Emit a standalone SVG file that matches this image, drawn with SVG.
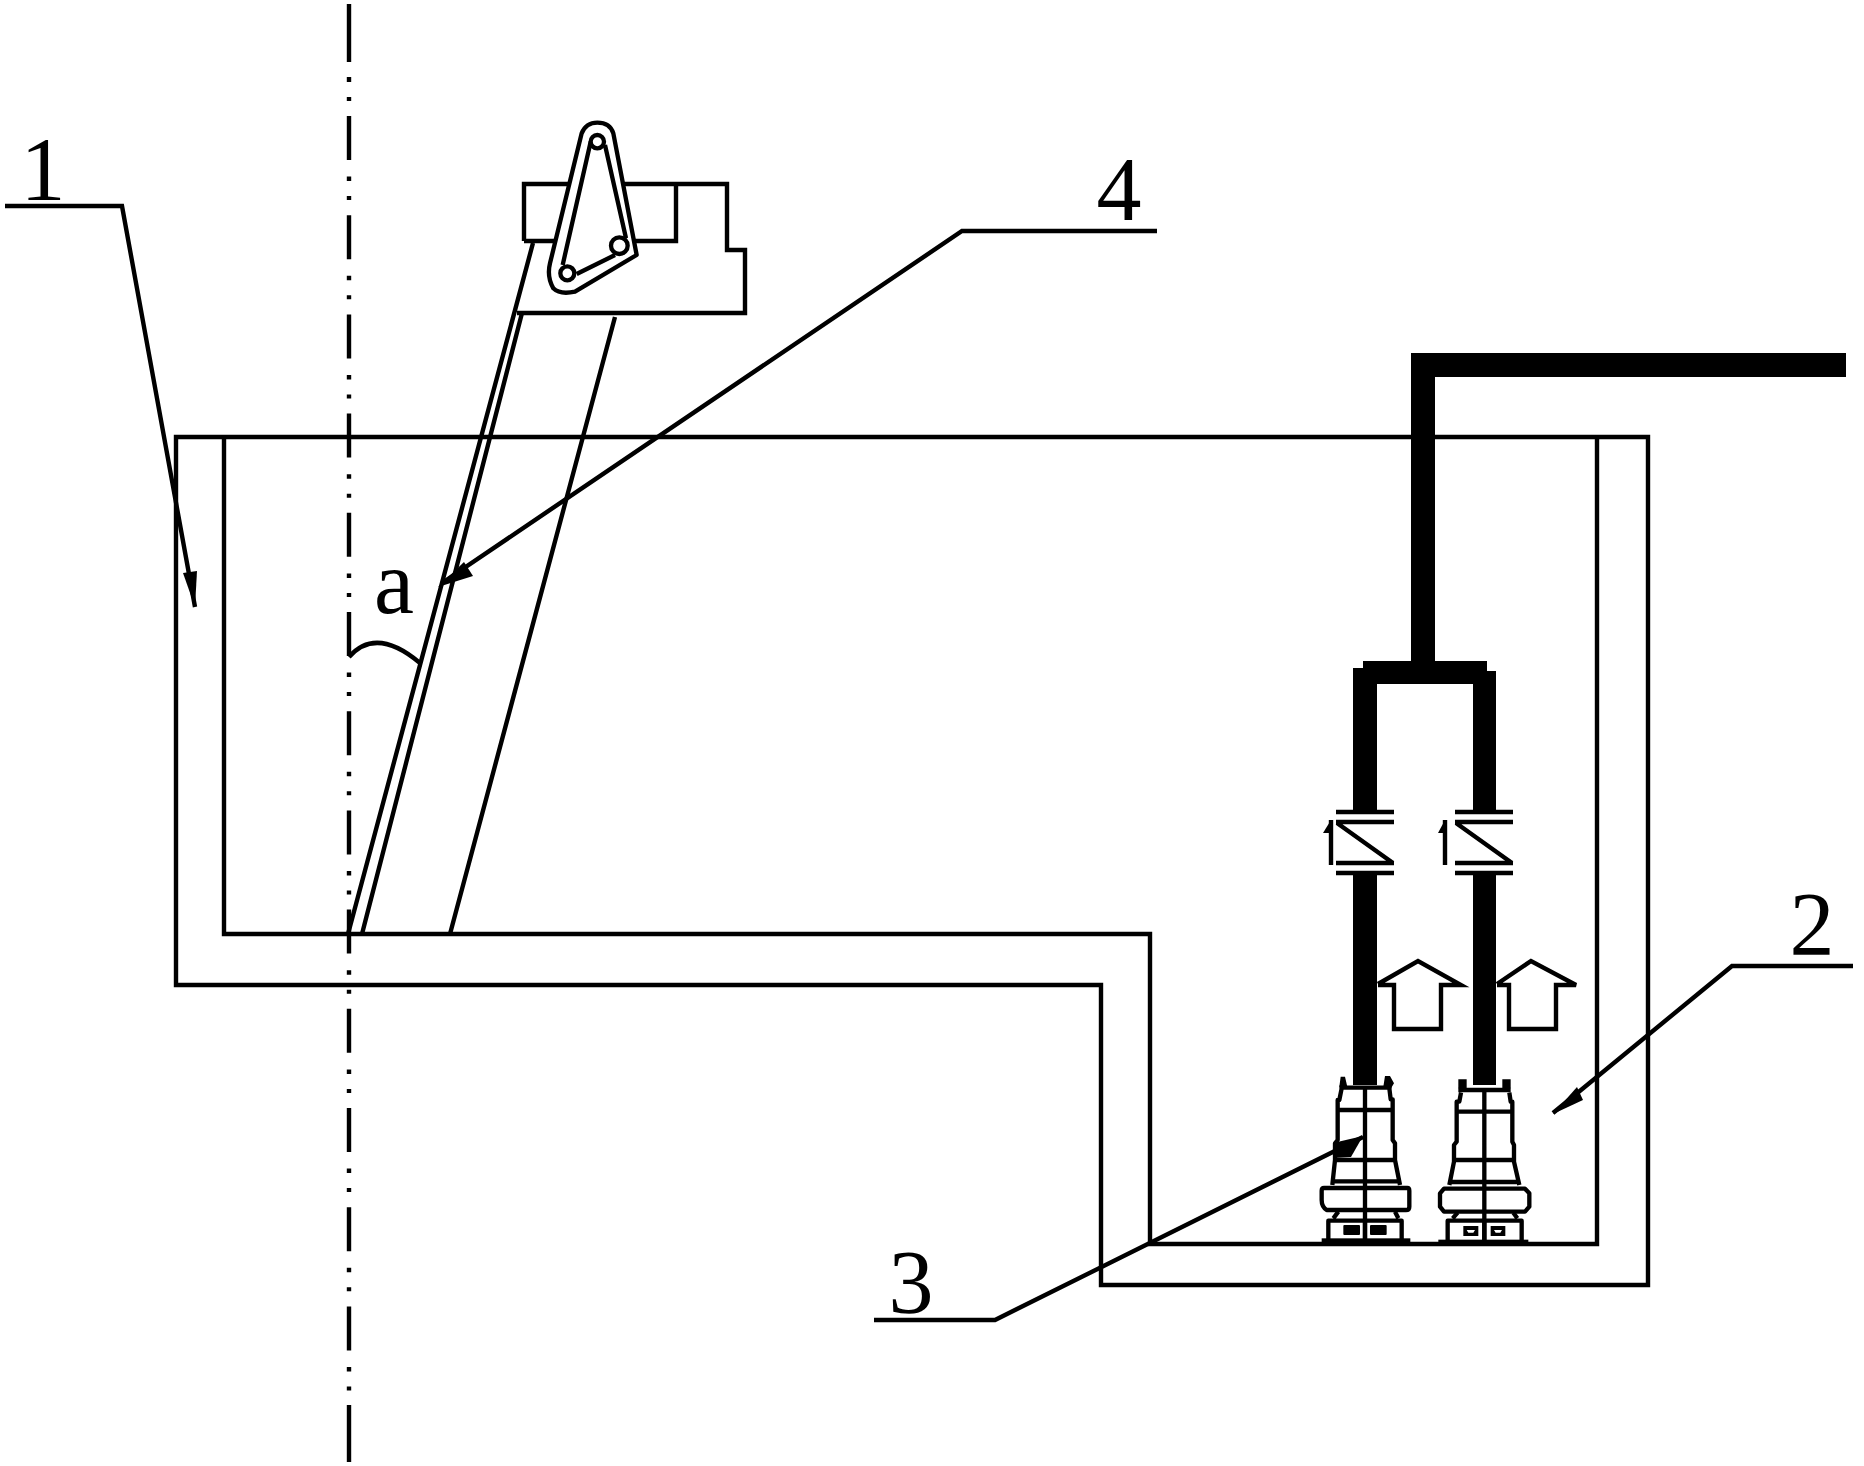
<svg xmlns="http://www.w3.org/2000/svg" width="1864" height="1466" viewBox="0 0 1864 1466">
<style>
.l{fill:none;stroke:#000;stroke-width:4.4}
.z{fill:none;stroke:#000;stroke-width:13;stroke-linejoin:round}
.w{fill:#fff;stroke:#000;stroke-width:13;stroke-linejoin:round}
.b{fill:#000;stroke:none}
.t{font-family:"Liberation Serif",serif;font-size:90px;fill:#000;text-anchor:middle}
</style>
<rect width="1864" height="1466" fill="#fff"/>
<g id="centerline">
<path class="l" d="M349 4V62M349 77V82M349 97V101"/>
<path class="l" stroke-dasharray="44 16.6 4.5 15 4 15.1" d="M349 116V1402"/>
<path class="l" d="M349 1405V1462"/>
</g>
<g id="tank">
<path class="l" d="M176 437H1648V1285H1101V985H176Z"/>
<path class="l" d="M224 437V934H1150V1244H1597V437"/>
</g>
<g id="gate">
<path class="l" d="M348 934L533 243M362 934L522 313M450 934L615 317"/>
<path class="l" d="M524 241V184H727V250H745V313H517M524 241H560M634 241H676V184"/>
<g transform="translate(480 100) scale(.33333)">
<path class="w" d="M352 68Q390 68 400 100L470 465L285 575Q240 585 220 565Q200 530 210 490L305 100Q318 68 352 68Z"/>
<path class="z" d="M332 125L248 495M375 135L438 415M290 522L405 465"/>
<circle class="w" cx="352" cy="125" r="20"/>
<circle class="w" cx="262" cy="520" r="21"/>
<circle class="w" cx="418" cy="437" r="25"/>
</g>
</g>
<g id="pipes">
<path class="b" d="M1411 353H1846V377H1435V661H1487V671H1496V810H1473V684H1377V810H1353V668H1363V661H1411Z"/>
<rect class="b" x="1353" y="873" width="24" height="212"/>
<rect class="b" x="1473" y="873" width="23" height="212"/>
</g>
<g id="valve-left">
<path class="l" d="M1336 812H1394M1336 822H1394M1336 863H1394M1336 873H1394M1337 823L1393 863M1331 820V865"/>
<path class="b" d="M1331 820L1323 833L1331 833Z"/>
</g>
<g id="valve-right">
<path class="l" d="M1455 812H1513M1455 822H1513M1455 863H1513M1455 873H1513M1456 823L1512 863M1445 820V865"/>
<path class="b" d="M1445 820L1438 833L1445 833Z"/>
</g>
<g id="arrow-left"><path class="l" d="M1378 984L1418 961L1461 985H1441V1029H1394V985H1378"/></g>
<g id="arrow-right"><path class="l" d="M1497 984L1531 961L1576 985H1556V1029H1509V985H1497"/></g>
<g id="pump-left" transform="translate(1300 940) scale(.33333)">
<path class="b" d="M118 440L122 410H135L142 440ZM250 440L255 408H270L282 430L270 450Z"/>
<path class="z" d="M118 443H275M125 445L118 480H113V600L105 610V660L97 735M268 445L272 478H278V600L285 610V660L300 735M113 510H278M105 660H285M97 724H300M195 445V905"/>
<path class="w" d="M72 744H322Q328 744 328 752V800Q328 810 318 810H80Q65 800 65 780V752Q65 744 72 744Z"/>
<path class="z" d="M195 744V810M115 815L100 835M285 815L295 835M85 905V842H305V905M195 842V905"/>
<rect class="b" x="130" y="855" width="50" height="30" rx="3"/>
<rect class="b" x="210" y="855" width="50" height="30" rx="3"/>
<rect class="b" x="65" y="895" width="266" height="14"/>
</g>
<g id="pump-right" transform="translate(1300 940) scale(.33333)">
<path class="b" d="M475 418H500V445H475ZM607 418H632V445H607Z"/>
<path class="z" d="M475 450H632M483 458L478 485H470V605L462 615V665L448 735M628 458L632 485H637V605L642 615V665L658 735M470 515H637M462 660H642M448 726H658M553 450V905"/>
<path class="w" d="M432 746H675L688 760V800L675 815H432L420 800V760Z"/>
<path class="z" d="M553 746V815M473 818L458 835M640 818L652 835M443 905V842H665V905M553 842V905"/>
<path class="b" d="M490 858H535V888H490ZM572 858H616V888H572Z"/>
<path fill="#fff" d="M500 870H525L520 878H505ZM582 870H606L601 878H587Z"/>
<rect class="b" x="415" y="899" width="270" height="10"/>
</g>
<g id="connectors">
<path class="l" d="M5 206H122L195 607"/>
<path class="b" d="M183 573L197 571L195 607Z"/>
<path class="l" d="M1157 231H962L442 583"/>
<path class="b" d="M438 587L464 562L473 576Z"/>
<path class="l" d="M1853 966H1732L1553 1113"/>
<path class="b" d="M1553 1114L1577 1087L1583 1100Z"/>
<path class="l" d="M874 1320H995L1363 1137"/>
<path class="b" d="M1363 1136L1333 1143L1333 1158L1351 1157Z"/>
</g>
<g id="labels">
<text class="t" x="43" y="200">1</text>
<text class="t" x="1812" y="955">2</text>
<text class="t" x="911" y="1313">3</text>
<text class="t" x="1119" y="220">4</text>
<text class="t" x="394" y="613">a</text>
<path class="l" d="M349 657Q376 626 420 663"/>
</g>
</svg>
